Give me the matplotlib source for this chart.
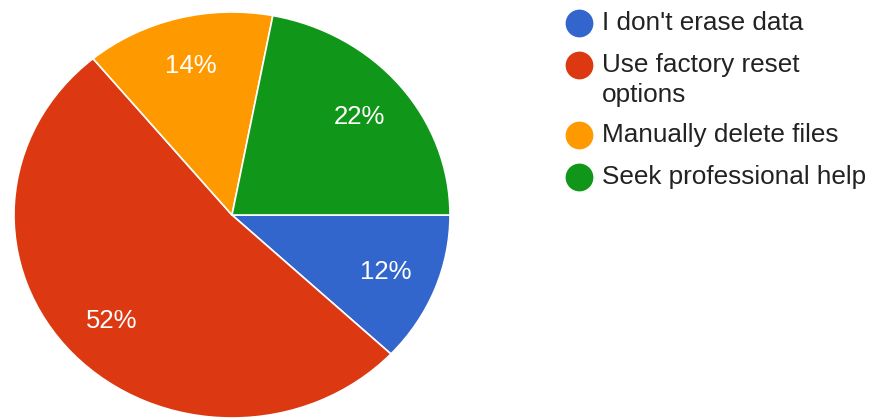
import matplotlib
matplotlib.use('Agg')
import matplotlib.pyplot as plt

# ── Data ───────────────────────────────────────────────────────────────────
labels = ["I don't erase data", "Use factory reset\noptions",
          "Manually delete files", "Seek professional help"]
shares = [12, 52, 14, 22]
colors = ['#3366cc', '#dc3912', '#ff9900', '#109618']

plt.rcParams['font.family'] = ['Liberation Sans', 'DejaVu Sans']

W, H = 878, 420
fig = plt.figure(figsize=(W / 100, H / 100), dpi=100)

# ── Pie (slightly wider than tall) ─────────────────────────────────────────
ax = fig.add_axes([14 / W, 2 / H, 436 / W, 406 / H])
wedges, texts, autotexts = ax.pie(
    shares, colors=colors, startangle=0, counterclock=False,
    autopct='%d%%', pctdistance=0.76,
    wedgeprops=dict(edgecolor='white', linewidth=1.2),
    textprops=dict(color='white', fontsize=18.5),
)
ax.set_aspect('auto')
ax.set_xlim(-1, 1)
ax.set_ylim(-1, 1)
ax.axis('off')

# ── Legend (pixel coords, y down) ──────────────────────────────────────────
lg = fig.add_axes([0, 0, 1, 1])
lg.set_xlim(0, W)
lg.set_ylim(H, 0)
lg.axis('off')
lg.patch.set_alpha(0)

row_y = [23, 65, 135, 177]
for y, lab, c in zip(row_y, labels, colors):
    lg.plot(579, y, 'o', color=c, markersize=20, markeredgewidth=0)
    for i, line in enumerate(lab.split('\n')):
        lg.text(602, y + 30 * i, line, color='#222222', fontsize=18.8,
                va='center', ha='left')

fig.savefig('out.png', dpi=100, facecolor='white')
